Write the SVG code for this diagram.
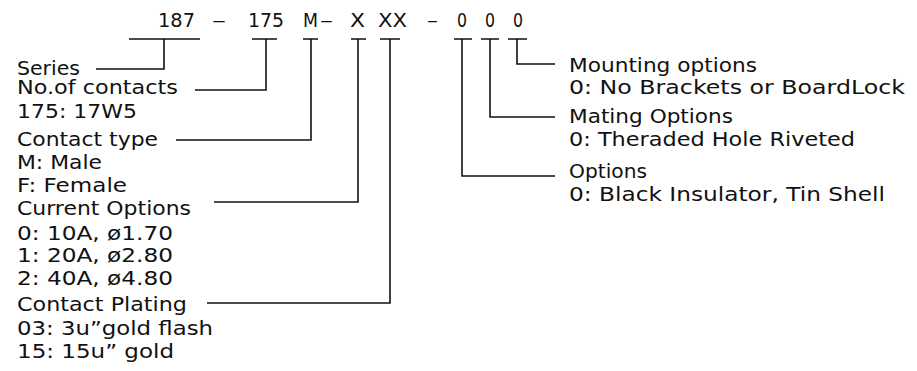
<svg xmlns="http://www.w3.org/2000/svg" width="917" height="371" viewBox="0 0 917 371">
<style>
text{font-family:"DejaVu Sans","Liberation Sans",sans-serif;fill:#111;}
.c{font-size:20px;}
.t{font-size:19.5px;}
.ln{fill:none;stroke:#111;stroke-width:1.6;}
</style>
<rect width="917" height="371" fill="#fff"/>
<g id="code">
<text class="c" x="158" y="27" textLength="37" lengthAdjust="spacingAndGlyphs">187</text>
<text class="c" x="212" y="27" textLength="14" lengthAdjust="spacingAndGlyphs">–</text>
<text class="c" x="248" y="27" textLength="36" lengthAdjust="spacingAndGlyphs">175</text>
<text class="c" x="303" y="27" textLength="15" lengthAdjust="spacingAndGlyphs">M</text>
<text class="c" x="320" y="27" textLength="13" lengthAdjust="spacingAndGlyphs">–</text>
<text class="c" x="350" y="27" textLength="15" lengthAdjust="spacingAndGlyphs">X</text>
<text class="c" x="378" y="27" textLength="29" lengthAdjust="spacingAndGlyphs">XX</text>
<text class="c" x="427" y="27" textLength="11" lengthAdjust="spacingAndGlyphs">–</text>
<text class="c" x="457" y="27" textLength="10" lengthAdjust="spacingAndGlyphs">0</text>
<text class="c" x="485" y="27" textLength="10" lengthAdjust="spacingAndGlyphs">0</text>
<text class="c" x="513" y="27" textLength="10" lengthAdjust="spacingAndGlyphs">0</text>
</g>
<g id="series">
<text class="t" x="17" y="75" textLength="63" lengthAdjust="spacingAndGlyphs">Series</text>
</g>
<g id="contacts">
<text class="t" x="17" y="94" textLength="161" lengthAdjust="spacingAndGlyphs">No.of contacts</text>
<text class="t" x="17" y="118" textLength="120" lengthAdjust="spacingAndGlyphs">175: 17W5</text>
</g>
<g id="contact-type">
<text class="t" x="17" y="146" textLength="141" lengthAdjust="spacingAndGlyphs">Contact type</text>
<text class="t" x="17" y="169" textLength="85" lengthAdjust="spacingAndGlyphs">M: Male</text>
<text class="t" x="17" y="192" textLength="110" lengthAdjust="spacingAndGlyphs">F: Female</text>
</g>
<g id="current-options">
<text class="t" x="17" y="215" textLength="174" lengthAdjust="spacingAndGlyphs">Current Options</text>
<text class="t" x="17" y="240" textLength="156" lengthAdjust="spacingAndGlyphs">0: 10A, ø1.70</text>
<text class="t" x="17" y="262" textLength="156" lengthAdjust="spacingAndGlyphs">1: 20A, ø2.80</text>
<text class="t" x="17" y="285" textLength="156" lengthAdjust="spacingAndGlyphs">2: 40A, ø4.80</text>
</g>
<g id="contact-plating">
<text class="t" x="17" y="311" textLength="170" lengthAdjust="spacingAndGlyphs">Contact Plating</text>
<text class="t" x="17" y="335" textLength="196" lengthAdjust="spacingAndGlyphs">03: 3u”gold flash</text>
<text class="t" x="17" y="358" textLength="157" lengthAdjust="spacingAndGlyphs">15: 15u” gold</text>
</g>
<g id="mounting">
<text class="t" x="569" y="72" textLength="188" lengthAdjust="spacingAndGlyphs">Mounting options</text>
<text class="t" x="569" y="94" textLength="336" lengthAdjust="spacingAndGlyphs">0: No Brackets or BoardLock</text>
</g>
<g id="mating">
<text class="t" x="569" y="123" textLength="164" lengthAdjust="spacingAndGlyphs">Mating Options</text>
<text class="t" x="569" y="146" textLength="286" lengthAdjust="spacingAndGlyphs">0: Theraded Hole Riveted</text>
</g>
<g id="options">
<text class="t" x="569" y="178" textLength="78" lengthAdjust="spacingAndGlyphs">Options</text>
<text class="t" x="569" y="201" textLength="316" lengthAdjust="spacingAndGlyphs">0: Black Insulator, Tin Shell</text>
</g>
<g id="connectors" class="ln">
<path d="M129 39H200M164 39V69H96"/>
<path d="M252 39H277M266 39V90H195"/>
<path d="M303 39H318M311 39V140H176"/>
<path d="M351 39H366M358 39V202H214"/>
<path d="M380 39H400M390 39V303H207"/>
<path d="M454 39H472M462 39V176H555"/>
<path d="M481 39H499M490 39V117H555"/>
<path d="M508 39H527M517 39V64H555"/>
</g>
</svg>
